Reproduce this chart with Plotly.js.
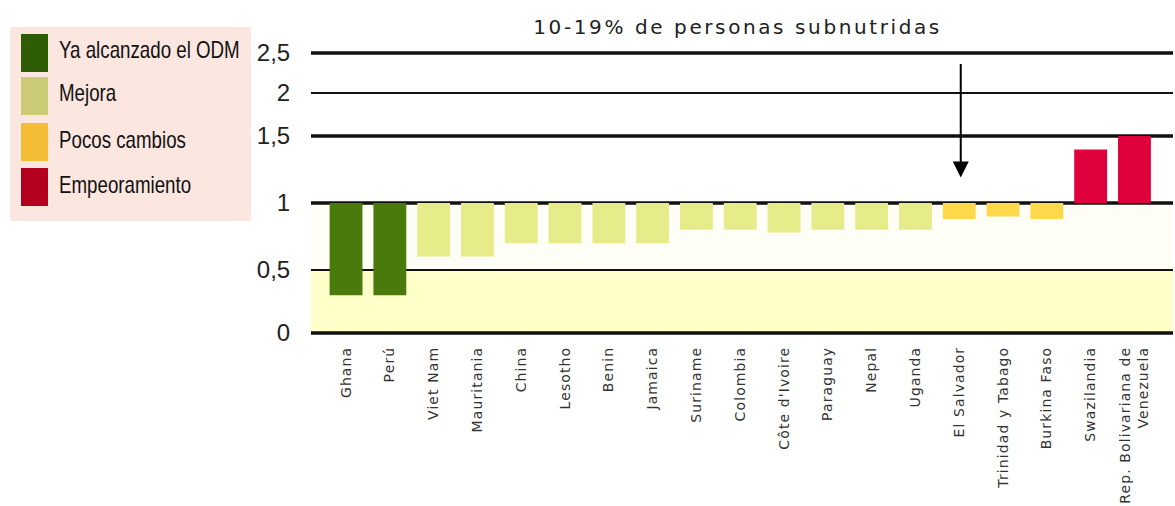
<!DOCTYPE html>
<html>
<head>
<meta charset="utf-8">
<script src="https://cdn.plot.ly/plotly-3.0.1.min.js"></script>
<style>
  html, body { margin: 0; padding: 0; background: #fff; }
  #chart { width: 1175px; height: 506px; }
  .gtitle { letter-spacing: 2.6px; }
  .xtick text { letter-spacing: 1.1px; }
</style>
</head>
<body>
<div id="chart"></div>
<script>
// ---- data ----
const categories = ['Ghana', 'Perú', 'Viet Nam', 'Mauritania', 'China', 'Lesotho', 'Benin', 'Jamaica',
  'Suriname', 'Colombia', "Côte d'Ivoire", 'Paraguay', 'Nepal', 'Uganda', 'El Salvador',
  'Trinidad y Tabago', 'Burkina Faso', 'Swazilandia', 'Rep. Bolivariana de<br>Venezuela'];
const values = [0.3, 0.3, 0.6, 0.6, 0.7, 0.7, 0.7, 0.7, 0.8, 0.8, 0.78, 0.8, 0.8, 0.8, 0.88, 0.9, 0.88, 1.4, 1.5];
const status = ['odm', 'odm', 'mejora', 'mejora', 'mejora', 'mejora', 'mejora', 'mejora', 'mejora', 'mejora',
  'mejora', 'mejora', 'mejora', 'mejora', 'pocos', 'pocos', 'pocos', 'peor', 'peor'];
const legendKeys = ['odm', 'mejora', 'pocos', 'peor'];
const legendLabels = ['Ya alcanzado el ODM', 'Mejora', 'Pocos cambios', 'Empeoramiento'];
const tickValues = [0, 0.5, 1, 1.5, 2, 2.5];
const tickLabels = ['0', '0,5', '1', '1,5', '2', '2,5'];
const baseline = 1;
const arrowCategory = 'El Salvador';
const titleText = '10-19% de personas subnutridas';

// ---- styles ----
const barColors = { odm: '#4a7a0c', mejora: '#e6ec89', pocos: '#ffd94a', peor: '#e0003b' };
const legendColors = { odm: '#2e5d05', mejora: '#cbcb76', pocos: '#f5bd35', peor: '#b3001f' };
const legendCondense = 0.78;   // emulate the condensed legend typeface

// The original chart uses a non-uniform vertical scale: knots map values to axis units.
const scaleKnots = [0, 0.5, 1, 1.5, 2, 2.5];
const scaleUnits = [0, 63, 130, 197, 240, 280];
function T(v) {
  for (let i = 0; i < scaleKnots.length - 1; i++) {
    if (v <= scaleKnots[i + 1] || i === scaleKnots.length - 2) {
      const f = (v - scaleKnots[i]) / (scaleKnots[i + 1] - scaleKnots[i]);
      return scaleUnits[i] + f * (scaleUnits[i + 1] - scaleUnits[i]);
    }
  }
}

// layout geometry (pixels)
const W = 1175, H = 506;
const mL = 311, mR = 2, mT = 43, mB = 163;
const plotW = W - mL - mR, plotH = H - mT - mB;
const px2x = p => (p - mL) / plotW;
const py2y = p => (H - mB - p) / plotH;

const trace = {
  type: 'bar',
  x: categories,
  y: values.map(v => T(v) - T(baseline)),
  base: values.map(() => T(baseline)),
  marker: { color: status.map(s => barColors[s]), line: { width: 0 } },
  width: 0.75,
  hoverinfo: 'skip'
};

const shapes = [];
// background bands
shapes.push({ type: 'rect', xref: 'paper', yref: 'y', x0: 0, x1: 1, y0: T(0), y1: T(0.5),
  fillcolor: '#ffffca', line: { width: 0 }, layer: 'below' });
shapes.push({ type: 'rect', xref: 'paper', yref: 'y', x0: 0, x1: 1, y0: T(0.5), y1: T(1),
  fillcolor: '#fffef6', line: { width: 0 }, layer: 'below' });
// horizontal rules
const thick = [true, false, true, true, false, true];
tickValues.forEach((v, i) => {
  shapes.push({ type: 'line', xref: 'paper', yref: 'y', x0: 0, x1: 1, y0: T(v), y1: T(v),
    line: { color: '#111', width: thick[i] ? 3.5 : 2 }, layer: 'below' });
});
// legend box
shapes.push({ type: 'rect', xref: 'paper', yref: 'paper', x0: px2x(10), x1: px2x(251), y0: py2y(221), y1: py2y(27),
  fillcolor: '#fbe6e0', line: { width: 0 }, layer: 'above' });

const annotations = [];
const swTop = [34, 77, 123, 168];
legendKeys.forEach((k, i) => {
  shapes.push({ type: 'rect', xref: 'paper', yref: 'paper', x0: px2x(21), x1: px2x(48),
    y0: py2y(swTop[i] + 38), y1: py2y(swTop[i]), fillcolor: legendColors[k], line: { width: 0 }, layer: 'above' });
  annotations.push({ xref: 'paper', yref: 'paper', x: px2x(57), y: py2y(swTop[i] + 16),
    xanchor: 'left', yanchor: 'middle', align: 'left', showarrow: false, text: legendLabels[i],
    font: { family: 'Liberation Sans, Arial, sans-serif', size: 24, color: '#111' } });
});

// arrow pointing at El Salvador
annotations.push({ xref: 'x', yref: 'y', x: arrowCategory, y: T(1.19), xshift: 1.5, text: '', showarrow: true,
  ax: 0, ay: -115, arrowhead: 2, arrowsize: 1.6, arrowwidth: 2, arrowcolor: '#000', standoff: 0 });

const layout = {
  width: W, height: H,
  margin: { l: mL, r: mR, t: mT, b: mB, pad: 0 },
  paper_bgcolor: '#fff', plot_bgcolor: '#fff',
  showlegend: false,
  title: { text: titleText, x: 0.6277, xref: 'container', xanchor: 'center', y: 1 - 27 / H, yref: 'container', yanchor: 'middle',
    font: { family: 'DejaVu Sans, sans-serif', size: 20, color: '#222' } },
  xaxis: {
    type: 'category', categoryorder: 'array', categoryarray: categories,
    range: [-0.8, 18.88], tickangle: -90, showgrid: false, zeroline: false, showline: false, ticks: '',
    tickfont: { family: 'DejaVu Sans, sans-serif', size: 14, color: '#333' }, fixedrange: true
  },
  yaxis: {
    range: [-10, 290], tickmode: 'array', tickvals: tickValues.map(T), ticktext: tickLabels,
    showgrid: false, zeroline: false, showline: false, ticks: 'outside', ticklen: 15, tickcolor: 'rgba(0,0,0,0)',
    tickfont: { family: 'Liberation Sans, Arial, sans-serif', size: 24, color: '#222' }, fixedrange: true
  },
  shapes: shapes,
  annotations: annotations
};

Plotly.newPlot('chart', [trace], layout, { displayModeBar: false, staticPlot: true }).then(() => {
  const groups = document.querySelectorAll('#chart .annotation');
  for (let i = 0; i < legendLabels.length && i < groups.length; i++) {
    const t = groups[i].querySelector('text.annotation-text');
    if (!t) continue;
    const w = t.getComputedTextLength();
    const nw = w * legendCondense;
    t.setAttribute('textLength', nw.toFixed(1));
    t.setAttribute('lengthAdjust', 'spacingAndGlyphs');
    const bg = groups[i].querySelector('rect.bg');
    if (bg) {
      const bw = parseFloat(bg.getAttribute('width')) || 0;
      bg.setAttribute('width', Math.max(0, bw - (w - nw)).toFixed(1));
    }
  }
});
</script>
</body>
</html>
